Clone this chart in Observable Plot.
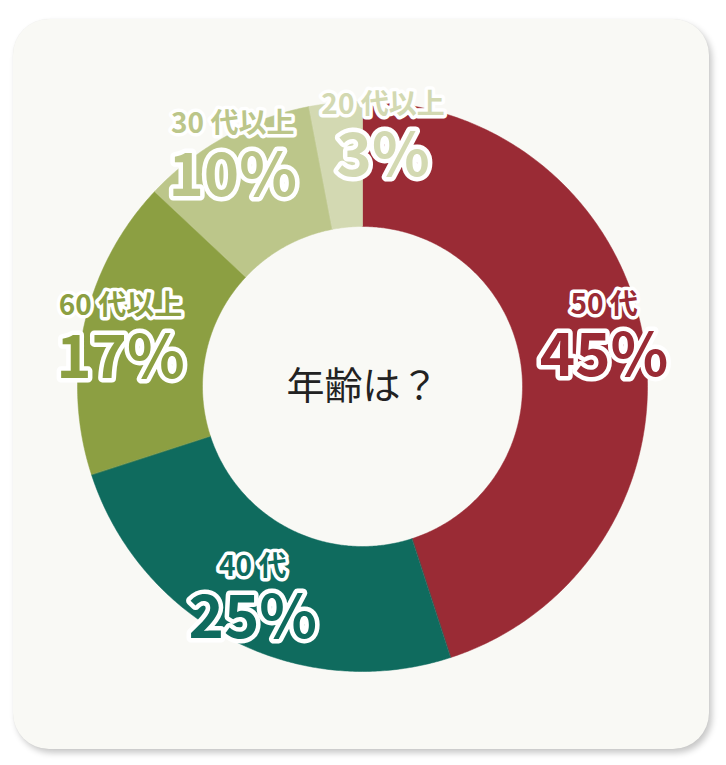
<!DOCTYPE html>
<html>
<head>
<meta charset="utf-8">
<script src="https://cdn.jsdelivr.net/npm/d3@7"></script>
<script src="https://cdn.jsdelivr.net/npm/@observablehq/plot@0.6"></script>
<style>
  html, body { margin: 0; padding: 0; background: #ffffff; width: 726px; height: 765px; overflow: hidden; }
  #card {
    position: absolute; left: 13px; top: 19px; width: 696px; height: 730px;
    border-radius: 36px; background: #f9f9f5;
    box-shadow: 3px 4px 6px rgba(0,0,0,0.22), 0 0 1px rgba(0,0,0,0.08);
  }
  #chart { position: absolute; left: 0; top: 0; }
</style>
</head>
<body>
<div id="card"></div>
<div id="chart"></div>
<script>
// ---- data ----
const categories = ["50代", "40代", "60代以上", "30代以上", "20代以上"];
const labels = ["50 代", "40 代", "60 代以上", "30 代以上", "20 代以上"];
const shares = [45, 25, 17, 10, 3];
const colors = ["#9a2b35", "#0f6b5e", "#8c9f42", "#bcc68a", "#d3d9b2"];
const centerTitle = "年齢は？";

// ---- layout (not data) ----
const CX = 362, CY = 386, R_OUT = 285;
const innerRatio = 160 / 285;
const labelRadius = [0.87, 0.82, 0.87, 0.945, 0.90];
const labelAngleShift = [-4, 1, 0, 0, 10]; // degrees
const font = "'Noto Sans CJK JP', 'Noto Sans', sans-serif";

const total = d3.sum(shares);
let acc = 0;
const slices = categories.map((c, i) => {
  const a0 = acc / total * 2 * Math.PI;
  acc += shares[i];
  const a1 = acc / total * 2 * Math.PI;
  return {category: c, label: labels[i], share: shares[i], a0, a1, i};
});

const pt = (r, a) => [r * Math.sin(a), -r * Math.cos(a)];
const features = slices.map(s => {
  const n = Math.max(8, Math.ceil((s.a1 - s.a0) / (Math.PI / 360)));
  const ring = [];
  for (let k = 0; k <= n; k++) ring.push(pt(1, s.a0 + (s.a1 - s.a0) * k / n));
  for (let k = n; k >= 0; k--) ring.push(pt(innerRatio, s.a0 + (s.a1 - s.a0) * k / n));
  ring.push(ring[0]);
  return {type: "Feature", properties: {category: s.category}, geometry: {type: "Polygon", coordinates: [ring]}};
});

const labelData = slices.map(s => {
  const mid = (s.a0 + s.a1) / 2 + labelAngleShift[s.i] * Math.PI / 180;
  const [x, y] = pt(labelRadius[s.i], mid);
  return {category: s.category, label: s.label, pct: s.share + "%", x, y};
});
const off = 26 / R_OUT;

const textCommon = {fontFamily: font, fontWeight: 700, textAnchor: "middle", stroke: "white", strokeLinejoin: "round", fill: "category"};

const chart = Plot.plot({
  width: 726,
  height: 765,
  margin: 0,
  style: {background: "transparent", overflow: "visible"},
  projection: d3.geoIdentity().scale(R_OUT).translate([CX, CY]),
  color: {domain: categories, range: colors},
  marks: [
    Plot.geo(features, {fill: d => d.properties.category, stroke: d => d.properties.category, strokeWidth: 0.5}),
    Plot.text(labelData, {...textCommon, x: "x", y: d => d.y - off, text: "label", fontSize: 28, strokeWidth: 7, ariaLabel: "outlined"}),
    Plot.text(labelData, {...textCommon, x: "x", y: d => d.y + off, text: "pct", fontSize: 60, strokeWidth: 9, ariaLabel: "outlined"}),
    Plot.text([{t: centerTitle}], {x: () => 0, y: () => 0, text: "t", fontFamily: font, fontWeight: 400, fontSize: 38, fill: "#222222", textAnchor: "middle", ariaLabel: "center-title"})
  ]
});
document.getElementById("chart").appendChild(chart);
d3.select(chart).selectAll('g[aria-label="outlined"], g[aria-label="outlined"] text').attr("paint-order", "stroke");
d3.select(chart).selectAll('g[aria-label="center-title"] text').style("letter-spacing", "3px");
</script>
</body>
</html>
